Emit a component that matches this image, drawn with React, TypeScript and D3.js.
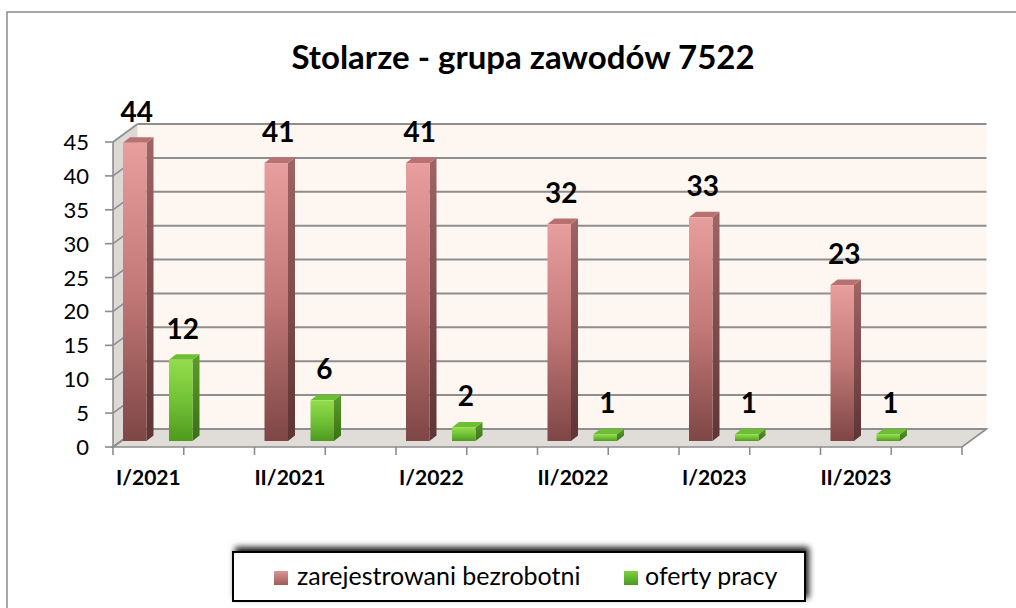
import React from "react";
import * as d3 from "d3";

const categories = ["I/2021", "II/2021", "I/2022", "II/2022", "I/2023", "II/2023"];
const seriesNames = ["zarejestrowani bezrobotni", "oferty pracy"];
const unemployed = [44, 41, 41, 32, 33, 23];
const offers = [12, 6, 2, 1, 1, 1];
const yTicks = [0, 5, 10, 15, 20, 25, 30, 35, 40, 45];
const title = "Stolarze - grupa zawodów 7522";

const W = 1016;
const H = 608;
const FONT = "Lato, 'Open Sans', sans-serif";

export default function App() {
  const x = d3.scaleBand<string>().domain(categories).range([113, 962]).paddingInner(0).paddingOuter(0);
  const y = d3.scaleLinear().domain([0, 45]).range([447, 142]);
  const DX = 24.5; // wall depth
  const DY = -18;
  const barZ = 1 / 3; // bar front depth fraction
  const barDX = 7;
  const barDY = -5.5;
  const barW = 23.5;
  const barOffsets = [10, 56];
  const series = [unemployed, offers];
  const grads = ["red", "green"];

  const step = x.bandwidth();
  const xTickPositions = d3.range(0, categories.length * 2 + 1).map((k) => 113 + (k * step) / 2);

  const backLeft = 113 + DX;
  const backRight = 962 + DX;

  const yBar = (v: number) => y(v) + DY * barZ;

  return (
    <svg
      width={W}
      height={H}
      style={{ position: "fixed", left: 0, top: 0, background: "#fff" }}
      fontFamily={FONT}
    >
      <defs>
        <linearGradient id="redFront" x1="0" y1="0" x2="0" y2="1">
          <stop offset="0" stopColor="#e89e9d" />
          <stop offset="0.5" stopColor="#c27876" />
          <stop offset="1" stopColor="#7e4646" />
        </linearGradient>
        <linearGradient id="redSide" x1="0" y1="0" x2="0" y2="1">
          <stop offset="0" stopColor="#a06464" />
          <stop offset="1" stopColor="#5e3434" />
        </linearGradient>
        <linearGradient id="greenFront" x1="0" y1="0" x2="0" y2="1">
          <stop offset="0" stopColor="#93dd4c" />
          <stop offset="0.5" stopColor="#72c236" />
          <stop offset="1" stopColor="#4e9a1e" />
        </linearGradient>
        <linearGradient id="greenSide" x1="0" y1="0" x2="0" y2="1">
          <stop offset="0" stopColor="#5a9e28" />
          <stop offset="1" stopColor="#3b7016" />
        </linearGradient>
        <linearGradient id="redLegend" x1="0" y1="0" x2="0" y2="1">
          <stop offset="0" stopColor="#d99494" />
          <stop offset="1" stopColor="#a05a5a" />
        </linearGradient>
        <linearGradient id="greenLegend" x1="0" y1="0" x2="0" y2="1">
          <stop offset="0" stopColor="#7fd03e" />
          <stop offset="1" stopColor="#4a9a1e" />
        </linearGradient>
        <filter id="legendShadow" x="-10%" y="-40%" width="120%" height="180%">
          <feDropShadow dx="3" dy="-4" stdDeviation="3" floodColor="#000" floodOpacity="0.9" />
        </filter>
      </defs>

      {/* outer chart border */}
      <rect x={7} y={12} width={1030} height={640} fill="#fff" stroke="#8c8c8c" strokeWidth={1.5} />

      {/* title */}
      <text x={523} y={69} textAnchor="middle" fontSize={33} fontWeight="bold" fill="#000">
        {title}
      </text>

      {/* back wall */}
      <rect
        x={backLeft}
        y={y(45) + DY}
        width={backRight - backLeft}
        height={y(0) - y(45)}
        fill="#fdf6f1"
      />
      {/* left wall */}
      <polygon
        points={`113,${y(0)} 113,${y(45)} ${backLeft},${y(45) + DY} ${backLeft},${y(0) + DY}`}
        fill="#dcd8d4"
      />
      {/* floor */}
      <polygon
        points={`113,${y(0)} ${backLeft},${y(0) + DY} ${backRight},${y(0) + DY} 962,${y(0)}`}
        fill="#e0dcd8"
        stroke="#8c8c8c"
        strokeWidth={1.6}
      />

      {/* gridlines */}
      {yTicks.map((t) => (
        <g key={t}>
          <line
            x1={backLeft}
            x2={backRight}
            y1={y(t) + DY}
            y2={y(t) + DY}
            stroke="#8e8e8e"
            strokeWidth={2}
          />
          <line x1={113} x2={backLeft} y1={y(t)} y2={y(t) + DY} stroke="#8e8e8e" strokeWidth={1.6} />
        </g>
      ))}

      {/* y axis */}
      <line x1={113} x2={113} y1={y(45)} y2={y(0)} stroke="#8c8c8c" strokeWidth={1.6} />
      {yTicks.map((t) => (
        <g key={"yt" + t}>
          <line x1={105} x2={113} y1={y(t)} y2={y(t)} stroke="#8c8c8c" strokeWidth={1.6} />
          <text x={89} y={y(t) + 8} textAnchor="end" fontSize={22} fill="#000">
            {t}
          </text>
        </g>
      ))}

      {/* x axis ticks */}
      {xTickPositions.map((px, i) => (
        <line key={"xt" + i} x1={px} x2={px} y1={y(0)} y2={y(0) + 8} stroke="#8c8c8c" strokeWidth={1.6} />
      ))}

      {/* bars */}
      {categories.map((c, ci) =>
        series.map((s, si) => {
          const v = s[ci];
          const x0 = (x(c) as number) + barOffsets[si];
          const yb = yBar(0);
          const yt = yBar(v);
          const g = grads[si];
          return (
            <g key={c + si}>
              <polygon
                points={`${x0 + barW},${yb} ${x0 + barW + barDX},${yb + barDY} ${x0 + barW + barDX},${yt + barDY} ${x0 + barW},${yt}`}
                fill={`url(#${g}Side)`}
              />
              <polygon
                points={`${x0},${yt} ${x0 + barDX},${yt + barDY} ${x0 + barW + barDX},${yt + barDY} ${x0 + barW},${yt}`}
                fill={si === 0 ? "#b87070" : "#6cbf32"}
              />
              <rect x={x0} y={yt} width={barW} height={yb - yt} fill={`url(#${g}Front)`} />
              <text
                x={x0 + barW / 2 + 2}
                y={yt - 21}
                textAnchor="middle"
                fontSize={28}
                fontWeight="bold"
                fill="#000"
              >
                {v}
              </text>
            </g>
          );
        })
      )}

      {/* category labels */}
      {categories.map((c) => (
        <text
          key={"cl" + c}
          x={(x(c) as number) + step / 4}
          y={485}
          textAnchor="middle"
          fontSize={21}
          fontWeight="bold"
          fill="#000"
        >
          {c}
        </text>
      ))}

      {/* legend */}
      <rect x={233} y={552} width={572} height={49} fill="#fff" stroke="#000" strokeWidth={2} filter="url(#legendShadow)" />
      <rect x={233} y={552} width={572} height={49} fill="#fff" stroke="#000" strokeWidth={2} />
      <rect x={274} y={571} width={14} height={14} fill="url(#redLegend)" />
      <text x={297} y={585} fontSize={25} fill="#000">
        {seriesNames[0]}
      </text>
      <rect x={624} y={571} width={14} height={14} fill="url(#greenLegend)" />
      <text x={645} y={585} fontSize={25} fill="#000">
        {seriesNames[1]}
      </text>
    </svg>
  );
}
